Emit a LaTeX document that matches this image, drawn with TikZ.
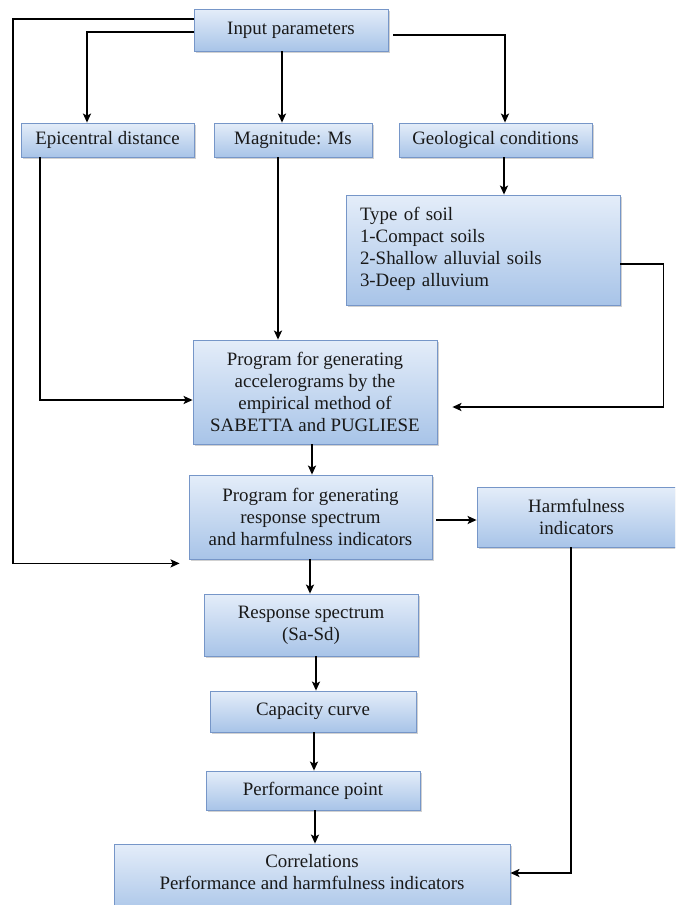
\documentclass[tikz,border=0pt]{standalone}
\usepackage{fontspec}
\setmainfont{Liberation Serif}
\usetikzlibrary{arrows.meta,shadows,calc}
\definecolor{boxtop}{RGB}{228,237,249}
\definecolor{boxbot}{RGB}{168,196,232}
\definecolor{boxline}{RGB}{118,150,200}
\begin{document}
\begin{tikzpicture}[x=1pt,y=1pt,
  box/.style={draw=boxline, line width=0.8pt, top color=boxtop, bottom color=boxbot,
    inner sep=0pt, align=center, text=black!90,
    font=\fontsize{18.9}{22}\selectfont,
    drop shadow={shadow xshift=1.5pt, shadow yshift=-1.5pt, opacity=0.3, fill=black!60}},
  arr/.style={-{Stealth[length=9pt,width=8pt,inset=2pt]}, line width=1.8pt, black}]
\useasboundingbox (0,0) rectangle (675,-905);
\clip (0,0) rectangle (675,-905);

\node[box, minimum width=194, minimum height=42] (inp) at (291,-30) {Input parameters};
\node[box, minimum width=173, minimum height=34] (epi) at (107.5,-140) {Epicentral distance};
\node[box, minimum width=158, minimum height=34] (mag) at (293,-140) {Magnitude: Ms};
\node[box, minimum width=193, minimum height=34] (geo) at (495.5,-140) {Geological conditions};
\node[box, minimum width=274, minimum height=110, inner xsep=14pt, text width=246pt, align=left, text depth=72pt] (soil) at (483,-250)
  {Type of soil\\1-Compact soils\\2-Shallow alluvial soils\\3-Deep alluvium};
\node[box, minimum width=244, minimum height=104] (sab) at (315,-392)
  {Program for generating\\accelerograms by the\\empirical method of\\SABETTA and PUGLIESE};
\node[box, minimum width=243, minimum height=84] (rsp) at (310.5,-517)
  {Program for generating\\response spectrum\\and harmfulness indicators};
\node[box, minimum width=199, minimum height=60] (harm) at (576.5,-517) {Harmfulness\\indicators};
\node[box, minimum width=214, minimum height=62] (rs) at (311,-625) {Response spectrum\\(Sa-Sd)};
\node[box, minimum width=206, minimum height=41] (cap) at (313,-711.5) {Capacity curve};
\node[box, minimum width=214, minimum height=39] (perf) at (313,-790.5) {Performance point};
\node[box, minimum width=396, minimum height=72, text depth=17pt] (corr) at (312,-880)
  {Correlations\\Performance and harmfulness indicators};

\coordinate (lp) at ([shift={(-9,-4)}]rsp.south west);
\coordinate (sp) at ([shift={(15,-15)}]sab.east);

\draw[arr] ([yshift=-2]inp.west) -| ([xshift=-20.5]epi.north);
\draw[arr] ([yshift=11]inp.west) -- ++(-181,0) |- (lp);
\draw[arr] ([xshift=-9]inp.south) -- ([xshift=-9]inp.south |- mag.north);
\draw[arr] ([shift={(5,-5)}]inp.east) -| ([xshift=9.5]geo.north);
\draw[arr] ([xshift=-67.5]epi.south) |- ([yshift=-8]sab.west);
\draw[arr] ([xshift=-15]mag.south) -- ([xshift=-15]mag.south |- sab.north);
\draw[arr] ([xshift=8.5]geo.south) -- ([xshift=8.5]geo.south |- soil.north);
\draw[arr] ([yshift=-14]soil.east) -- ++(43,0) |- (sp);
\draw[arr] ([xshift=-3]sab.south) -- ([xshift=-3]sab.south |- rsp.north);
\draw[arr] ([shift={(4,-3)}]rsp.east) -- ([yshift=-3]harm.west);
\draw[arr] ([xshift=-0.5]rsp.south) -- ([xshift=-0.5]rsp.south |- rs.north);
\draw[arr] ([xshift=5]rs.south) -- ([xshift=5]rs.south |- cap.north);
\draw[arr] ([xshift=1]cap.south) -- ([xshift=1]cap.south |- perf.north);
\draw[arr] ([xshift=2]perf.south) -- ([xshift=2]perf.south |- corr.north);
\draw[arr] ([xshift=-5.5]harm.south) |- ([yshift=7]corr.east);
\end{tikzpicture}
\end{document}
